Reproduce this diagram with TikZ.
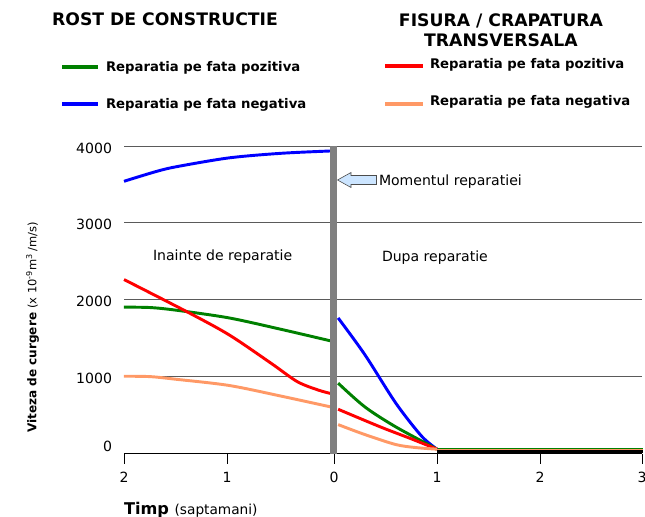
\documentclass[tikz,border=0pt]{standalone}
\usepackage{fontspec}
\setmainfont{DejaVu Sans}
\usepackage{tikz}
\usetikzlibrary{calc,positioning}
\definecolor{verde}{RGB}{0,128,0}
\definecolor{albastru}{RGB}{0,0,255}
\definecolor{rosu}{RGB}{255,0,0}
\definecolor{portocaliu}{RGB}{255,153,102}
\definecolor{gri}{RGB}{128,128,128}
\definecolor{grila}{RGB}{90,90,90}
\definecolor{bleu}{RGB}{204,229,255}

\begin{document}
\begin{tikzpicture}[x=0.03cm, y=-0.03cm]
	\tikzstyle{every node} = [inner sep = 0pt, outer sep = 0pt]
	\tikzstyle{titlu} = [font = \fontsize{14.7}{17}\selectfont\bfseries, anchor = base]
	\tikzstyle{leg} = [font = \fontsize{11.3}{13}\selectfont\bfseries, anchor = base west]
	\tikzstyle{eti} = [font = \fontsize{12}{14}\selectfont]
	\tikzstyle{grid} = [draw, grila, line width = 0.8pt]
	\tikzstyle{curba} = [line width = 2.5pt, smooth, tension = 0.5]
	\useasboundingbox (0,0) rectangle (645,517);

\node[titlu] (0) at (165,26) {ROST DE CONSTRUCTIE};
\node[titlu] (1) at (501,26.7) {FISURA / CRAPATURA};
\node[titlu] (2) at (501,46.7) {TRANSVERSALA};

\node[leg] (3) at (106,72) {Reparatia pe fata pozitiva};
\node[leg] (4) at (106,109) {Reparatia pe fata negativa};
\node[leg] (5) at (430,68.5) {Reparatia pe fata pozitiva};
\node[leg] (6) at (430,106) {Reparatia pe fata negativa};
	\path[draw, verde, line width = 2.6pt] (62,67) -- (98,67);
	\path[draw, albastru, line width = 2.6pt] (62,104) -- (98,104);
	\path[draw, rosu, line width = 2.6pt] (385,66) -- (423,66);
	\path[draw, portocaliu, line width = 2.6pt] (385,104) -- (423,104);

	\path[grid] (124,146) -- (642,146);
	\path[grid] (124,222.75) -- (642,222.75);
	\path[grid] (124,299.5) -- (642,299.5);
	\path[grid] (124,376.25) -- (642,376.25);

\node[eti, anchor = base east] (7) at (112,154) {4000};
\node[eti, anchor = base east] (8) at (112,230) {3000};
\node[eti, anchor = base east] (9) at (112,306.7) {2000};
\node[eti, anchor = base east] (10) at (112,383.3) {1000};
\node[eti, anchor = base east] (11) at (112,451.7) {0};

	\path[draw, line width = 0.8pt] (124,453.5) -- (642,453.5);
	\path[draw, line width = 0.8pt] (124,453.5) -- (124,463.5);
	\path[draw, line width = 0.8pt] (227,453.5) -- (227,463.5);
	\path[draw, line width = 0.8pt] (334,453.5) -- (334,463.5);
	\path[draw, line width = 0.8pt] (437,453.5) -- (437,463.5);
	\path[draw, line width = 0.8pt] (540,453.5) -- (540,463.5);
	\path[draw, line width = 0.8pt] (642,453.5) -- (642,463.5);

\node[eti, anchor = base] (12) at (124,482.7) {2};
\node[eti, anchor = base] (13) at (227,482.7) {1};
\node[eti, anchor = base] (14) at (334,482.7) {0};
\node[eti, anchor = base] (15) at (437,482.7) {1};
\node[eti, anchor = base] (16) at (540,482.7) {2};
\node[eti, anchor = base] (17) at (642,482.7) {3};

\node[anchor = base west] (18) at (124,514) {\fontsize{13.8}{16}\selectfont\bfseries Timp \fontsize{11.7}{14}\selectfont\mdseries(saptamani)};
\node[rotate = 90, anchor = base west] (19) at (36.5,433) {\fontsize{10.3}{13}\selectfont\bfseries Viteza de curgere \fontsize{9.8}{12}\selectfont\mdseries(x 10\textsuperscript{-9}m\textsuperscript{3}\,/m/s)};

\node[eti, anchor = base west] (20) at (153,261) {Inainte de reparatie};
\node[eti, anchor = base west] (21) at (382,261.5) {Dupa reparatie};

\coordinate (o) at (334,453);
\begin{scope}[shift = {(o)}, x = 3.15cm, y = 2.3025cm]
	\path[draw, curba, albastru] plot coordinates {(-2,3.54) (-1.7,3.665) (-1.5,3.73) (-1,3.845) (-0.5,3.905) (-0.03,3.935)};
	\path[draw, curba, verde] plot coordinates {(-2,1.9) (-1.75,1.895) (-1.5,1.86) (-1,1.76) (-0.5,1.61) (-0.03,1.46)};
	\path[draw, curba, portocaliu] plot coordinates {(-2,1.0) (-1.75,0.995) (-1.5,0.96) (-1,0.88) (-0.5,0.74) (-0.03,0.6)};
	\path[draw, curba, rosu] plot coordinates {(-2,2.26) (-1.4,1.84) (-1,1.54) (-0.6,1.17) (-0.35,0.93) (-0.15,0.82) (-0.03,0.775)};
\end{scope}
\begin{scope}[shift = {(o)}, x = 3.09cm, y = 2.3025cm]
	\path[draw, line width = 2.6pt, black] (1,0.022) -- (3,0.022);
	\path[draw, line width = 1.3pt, portocaliu] (1,0.048) -- (3,0.048);
	\path[draw, line width = 0.9pt, verde] (1,0.063) -- (3,0.063);
	\path[draw, curba, albastru] plot coordinates {(0.04,1.76) (0.3,1.28) (0.6,0.65) (0.85,0.22) (1,0.05)};
	\path[draw, curba, verde] plot coordinates {(0.04,0.91) (0.3,0.6) (0.6,0.34) (1,0.05)};
	\path[draw, curba, rosu] plot coordinates {(0.04,0.57) (0.45,0.34) (0.74,0.19) (1,0.05)};
	\path[draw, curba, portocaliu] plot coordinates {(0.04,0.37) (0.3,0.24) (0.6,0.11) (0.8,0.07) (1,0.05)};
\end{scope}

	\path[draw, gri, line width = 6pt] (333.5,146) -- (333.5,453.5);

	\path[draw, fill = bleu, draw = black!70, line width = 0.5pt] (337.5,180) -- (351,172.5) -- (351,175.5) -- (376.5,175.5) -- (376.5,184.5) -- (351,184.5) -- (351,187.5) -- cycle;
\node[eti, anchor = base west] (22) at (379,186) {Momentul reparatiei};
\end{tikzpicture}
\end{document}
